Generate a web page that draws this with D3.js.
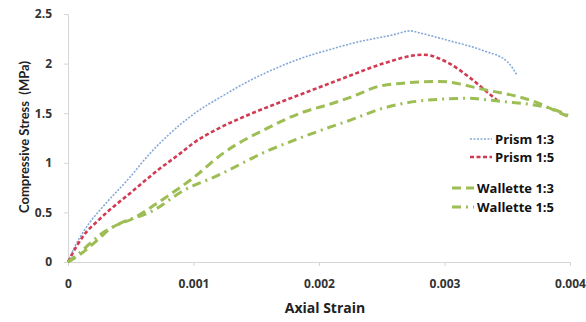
<!doctype html>
<html lang="en">
<head>
  <style>
    body { margin: 0; background: #fff; }
    .tick-label { font: bold 12px "Open Sans", sans-serif; fill: #333; }
    .axis-title { font: bold 13px Lato, "Open Sans", sans-serif; fill: #222; }
    .x-title { font: bold 14px "Open Sans", sans-serif; fill: #222; }
    .legend-label { font: bold 13px "Open Sans", sans-serif; fill: #111; }
    .line { fill: none; }
  </style>
  <script src="https://d3js.org/d3.v7.min.js"></script>
</head>
<body>
  <script>
    // tick values
    const xTicks = [0, 0.001, 0.002, 0.003, 0.004];
    const yTicks = [0, 0.5, 1, 1.5, 2, 2.5];

    // series: [strain, stress MPa]
    const prism13 = [[0,0],[0.00006,0.17],[0.00012,0.3],[0.00018,0.41],[0.00028,0.56],[0.00049,0.85],[0.00065,1.09],
      [0.0008,1.28],[0.001,1.49],[0.00124,1.68],[0.00145,1.83],[0.00167,1.96],[0.00185,2.05],[0.00211,2.15],
      [0.00225,2.2],[0.00259,2.29],[0.00273,2.33],[0.0028,2.31],[0.00304,2.23],[0.00331,2.13],[0.0035,2.02],[0.00358,1.88]];
    const prism15 = [[0,0],[0.00006,0.14],[0.00012,0.26],[0.00025,0.43],[0.00052,0.72],[0.00071,0.92],[0.0009,1.1],[0.001,1.2],
      [0.00119,1.34],[0.00145,1.49],[0.00171,1.62],[0.00198,1.75],[0.00225,1.88],[0.00251,2.0],[0.00283,2.09],
      [0.00304,2.0],[0.0032,1.86],[0.00339,1.66],[0.00342,1.63]];
    const wallette13 = [[0,0],[0.0001,0.08],[0.00025,0.24],[0.00033,0.33],[0.00052,0.44],[0.00073,0.61],[0.001,0.85],
      [0.00124,1.1],[0.00159,1.35],[0.00185,1.5],[0.00211,1.6],[0.00225,1.66],[0.00251,1.78],[0.00296,1.82],
      [0.00331,1.74],[0.00371,1.62],[0.00398,1.47],[0.004,1.46]];
    const wallette15 = [[0,0],[0.0001,0.1],[0.00025,0.27],[0.0004,0.38],[0.00068,0.52],[0.00092,0.72],[0.00119,0.87],
      [0.00159,1.12],[0.00185,1.25],[0.00211,1.37],[0.00225,1.43],[0.00251,1.55],[0.00278,1.62],[0.00318,1.65],
      [0.00344,1.62],[0.00384,1.55],[0.004,1.47]];

    const seriesNames = ["Prism 1:3", "Prism 1:5", "Wallette 1:3", "Wallette 1:5"];
    const seriesData = [prism13, prism15, wallette13, wallette15];

    const styles = [
      { color: "#86a9d8", width: 1.6, dash: "2,1.5" },
      { color: "#d23a52", width: 2.6, dash: "4,2.5" },
      { color: "#9dbd55", width: 3, dash: "9,5" },
      { color: "#9dbd55", width: 3, dash: "9,5,2,5" }
    ];

    const W = 586, H = 322;
    const margin = { top: 14, right: 16, bottom: 60, left: 68 };

    const svg = d3.select("body").append("svg")
      .attr("width", W).attr("height", H);

    const x = d3.scaleLinear().domain([0, 0.004]).range([margin.left, 570]);
    const y = d3.scaleLinear().domain([0, 2.5]).range([262, margin.top]);

    // axes
    const xAxis = svg.append("g")
      .attr("transform", `translate(0,${y(0)})`)
      .call(d3.axisBottom(x).tickValues(xTicks).tickSize(4).tickPadding(13)
        .tickFormat(d => d === 0 ? "0" : d3.format(".3f")(d)));
    const yAxis = svg.append("g")
      .attr("transform", `translate(${x(0)},0)`)
      .call(d3.axisLeft(y).tickValues(yTicks).tickSize(4).tickPadding(12)
        .tickFormat(d => String(d)));

    [xAxis, yAxis].forEach(g => {
      g.select(".domain").attr("stroke", "#d6d6d6");
      g.selectAll(".tick line").attr("stroke", "#d6d6d6");
      g.selectAll(".tick text").attr("class", "tick-label").attr("fill", null);
    });

    const line = d3.line()
      .x(d => x(d[0]))
      .y(d => y(d[1]))
      .curve(d3.curveMonotoneX);

    seriesData.forEach((data, i) => {
      svg.append("path")
        .datum(data)
        .attr("class", "line")
        .attr("d", line)
        .attr("stroke", styles[i].color)
        .attr("stroke-width", styles[i].width)
        .attr("stroke-dasharray", styles[i].dash);
    });

    // legend
    const legendRows = [
      { y: 144, x0: 470, x1: 492, tx: 495 },
      { y: 162, x0: 470, x1: 492, tx: 495 },
      { y: 193, x0: 452, x1: 474, tx: 477 },
      { y: 212, x0: 452, x1: 474, tx: 477 }
    ];
    legendRows.forEach((r, i) => {
      svg.append("line")
        .attr("x1", r.x0).attr("x2", r.x1)
        .attr("y1", r.y - 5).attr("y2", r.y - 5)
        .attr("stroke", styles[i].color)
        .attr("stroke-width", styles[i].width)
        .attr("stroke-dasharray", styles[i].dash);
      svg.append("text")
        .attr("class", "legend-label")
        .attr("x", r.tx).attr("y", r.y)
        .text(seriesNames[i]);
    });

    // axis titles
    svg.append("text")
      .attr("class", "x-title")
      .attr("x", 325).attr("y", 313)
      .attr("text-anchor", "middle")
      .text("Axial Strain");

    svg.append("text")
      .attr("class", "axis-title")
      .attr("transform", "translate(29,137) rotate(-90)")
      .attr("text-anchor", "middle")
      .attr("xml:space", "preserve")
      .text("Compressive Stress  (MPa)");
  </script>
</body>
</html>
